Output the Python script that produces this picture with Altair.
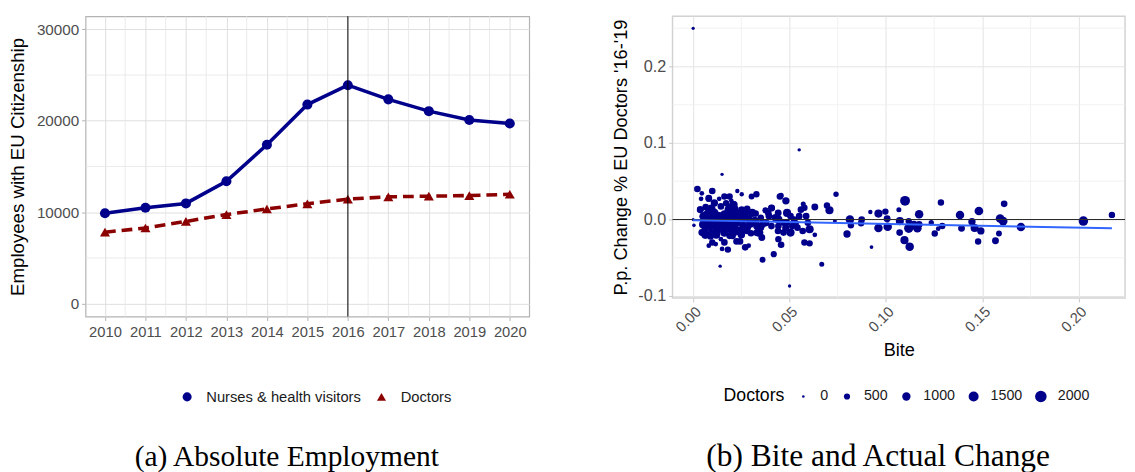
import altair as alt
import pandas as pd

# ---------------- panel (a): absolute employment ----------------
years = [2010, 2011, 2012, 2013, 2014, 2015, 2016, 2017, 2018, 2019, 2020]
nurses = [9880, 10490, 10960, 13390, 17370, 21770, 23890, 22340, 21050, 20090, 19700]
doctors_abs = [7810, 8270, 8990, 9740, 10350, 10920, 11430, 11680, 11750, 11820, 11960]
series_names = ["Nurses & health visitors", "Doctors"]
year_minor = [2010.5, 2011.5, 2012.5, 2013.5, 2014.5, 2015.5, 2016.5, 2017.5, 2018.5, 2019.5]
emp_major = [0, 10000, 20000, 30000]
emp_minor = [5000, 15000, 25000]
ref_year = [2016]

# ---------------- panel (b): bite vs change ----------------
bite = [0.000, 0.055, 0.015, 0.050, 0.014, 0.0667, 0.036, 0.0418, 0.0925, 0.000, 0.0004,
        0.0741, 0.0735, 0.0798, 0.0813, 0.0818, 0.0874, 0.0871, 0.0919, 0.0961, 0.0961,
        0.0997, 0.1006, 0.1009, 0.1067, 0.1099, 0.1072, 0.1071, 0.1096, 0.1118, 0.1123,
        0.1118, 0.1145, 0.1163, 0.1172, 0.1172, 0.1235, 0.1253, 0.1271, 0.1285, 0.1292,
        0.1384, 0.1392, 0.1446, 0.1460, 0.1482, 0.1478, 0.1492, 0.1568, 0.1586, 0.1592,
        0.1608, 0.1613, 0.1700, 0.2024, 0.2172,
        0.0456, 0.0481, 0.0571, 0.0577, 0.0631, 0.0694, 0.0707, 0.0586, 0.0595, 0.0604,
        0.0577, 0.0604, 0.0631, 0.0505, 0.0523, 0.0541, 0.0487, 0.0469, 0.0442, 0.0442,
        0.0456, 0.0406, 0.0393, 0.0379, 0.0406, 0.0342, 0.0333, 0.0324, 0.0306, 0.0328,
        0.0303, 0.0270, 0.0288, 0.0225, 0.0252, 0.0229,
        0.0022, 0.0041, 0.0099, 0.0081, 0.0135, 0.0162, 0.0189, 0.0171, 0.0207, 0.0216,
        0.0180, 0.0144, 0.0094, 0.0036, 0.0054, 0.0072, 0.0054, 0.0045, 0.0063, 0.0094,
        0.0126, 0.0108, 0.0135, 0.0162, 0.0180, 0.0198, 0.0225, 0.0243, 0.0252, 0.0261,
        0.0234, 0.0216, 0.0189, 0.0162, 0.0144, 0.0162, 0.0180, 0.0150, 0.0117, 0.0099,
        0.0081, 0.0090, 0.0288, 0.0297, 0.0279, 0.0243, 0.0198, 0.0252, 0.0045, 0.0072,
        0.0198, 0.0144, 0.0171, 0.0090, 0.0117, 0.0216, 0.0315, 0.0351, 0.0360, 0.0424,
        0.0442, 0.0487, 0.0505, 0.0559, 0.0550, 0.0514, 0.0568, 0.0469,
        0.0038, 0.0081, 0.0110, 0.0089, 0.0051, 0.0060, 0.0119, 0.0170, 0.0187, 0.0212,
        0.0272, 0.0297, 0.0255, 0.0331, 0.0374, 0.0425, 0.0450, 0.0407, 0.0153, 0.0229,
        0.0102, 0.0204, 0.0356, 0.0441,
        0.0065, 0.0110, 0.0140, 0.0200, 0.0230, 0.0280, 0.0320, 0.0065, 0.0120, 0.0170,
        0.0260, 0.0300, 0.0350, 0.0390, 0.0100, 0.0160, 0.0215, 0.0250, 0.0075, 0.0185,
        0.0280, 0.0480, 0.0530, 0.0440, 0.0375]
change = [0.250, 0.091, 0.059, -0.087, -0.061, -0.0586, -0.0527, -0.0454, -0.0360, 0.000, -0.0077,
          0.0330, -0.0020, -0.0190, 0.0000, -0.0077, 0.0000, -0.0050, 0.0098, 0.0077, -0.0110,
          0.0103, 0.0009, -0.0094, 0.0128, 0.0244, -0.0021, -0.0171, -0.0270, -0.0116, -0.0355,
          -0.0021, -0.0073, -0.0116, 0.0068, -0.0064, -0.0043, -0.0184, -0.0120, 0.0223, -0.0086,
          0.0060, -0.0116, -0.0030, -0.0111, 0.0111, -0.0287, -0.0150, -0.0278, -0.0184, 0.0013,
          -0.0021, 0.0205, -0.0098, -0.0021, 0.0060,
          0.0313, 0.0244, 0.0201, 0.0154, 0.0163, 0.0184, 0.0120, 0.0043, -0.0043, -0.0128,
          -0.0300, -0.0312, -0.0201, -0.0171, 0.0000, -0.0107, 0.0086, -0.0043, 0.0000, -0.0257,
          -0.0330, 0.0150, 0.0043, -0.0043, -0.0086, -0.0171, -0.0086, 0.0077, 0.0086, 0.0330,
          0.0300, -0.0364, -0.0342, -0.0287, 0.0330, 0.0372,
          0.0398, 0.0270, 0.0372, 0.0270, 0.0270, 0.0300, 0.0300, 0.0214, 0.0201, 0.0128,
          0.0128, 0.0171, 0.0141, 0.0128, 0.0043, -0.0021, -0.0064, -0.0171, -0.0201, -0.0171,
          -0.0128, -0.0043, 0.0043, 0.0064, -0.0043, 0.0021, -0.0043, 0.0043, 0.0128, -0.0086,
          -0.0150, -0.0171, -0.0214, -0.0171, -0.0257, -0.0300, -0.0394, -0.0385, -0.0321, -0.0300,
          -0.0342, -0.0223, 0.0000, -0.0064, -0.0150, -0.0287, 0.0244, 0.0000, 0.0342, 0.0043,
          -0.0107, -0.0064, -0.0086, -0.0086, 0.0043, 0.0043, -0.0043, 0.0021, -0.0064, 0.0021,
          -0.0086, -0.0043, 0.0043, 0.0128, 0.0043, -0.0086, -0.0150, -0.0171,
          0.0129, 0.0279, 0.0215, 0.0044, -0.0064, -0.0171, -0.0149, -0.0085, 0.0086, 0.0193,
          0.0086, -0.0020, -0.0128, -0.0171, -0.0043, 0.0022, 0.0300, 0.0150, 0.0000, -0.0020,
          -0.0043, -0.0214, -0.0235, 0.0086,
          0.0163, 0.0090, -0.0010, -0.0140, 0.0080, -0.0100, -0.0020, -0.0110, -0.0200, 0.0010,
          0.0030, -0.0180, -0.0100, 0.0080, 0.0050, -0.0110, -0.0060, -0.0200, 0.0080, 0.0170,
          0.0140, -0.0110, -0.0050, -0.0150, 0.0120]
doctors_n = [60, 80, 70, 70, 80, 300, 450, 500, 120, 40, 90,
             350, 150, 750, 1050, 550, 600, 550, 200, 950, 1050,
             550, 650, 1050, 300, 1450, 950, 600, 950, 1250, 1050,
             550, 1050, 1050, 1050, 650, 350, 550, 250, 550, 550,
             1050, 650, 750, 950, 1100, 550, 750, 650, 450, 1100,
             1100, 600, 1050, 1350, 550,
             350, 750, 300, 550, 650, 550, 950, 600, 600, 950,
             550, 550, 250, 950, 600, 600, 950, 600, 950, 550,
             600, 600, 600, 600, 600, 1050, 1050, 600, 950, 550,
             450, 600, 250, 600, 200, 200,
             600, 250, 600, 550, 250, 550, 550, 550, 600, 950,
             600, 600, 1050, 600, 1050, 1050, 600, 650, 950, 600,
             1050, 1050, 1050, 1050, 1050, 1050, 1050, 1050, 600, 1050,
             1050, 600, 600, 1050, 250, 600, 550, 250, 250, 550,
             250, 600, 1050, 600, 600, 600, 250, 600, 250, 600,
             1050, 1050, 1050, 1050, 600, 1050, 600, 600, 600, 600,
             600, 600, 600, 600, 600, 600, 600, 600,
             650, 650, 750, 850, 900, 850, 850, 900, 900, 750,
             850, 750, 850, 750, 750, 650, 600, 650, 850, 850,
             850, 650, 650, 650,
             600, 1000, 1100, 1000, 1000, 900, 1000, 1000, 900, 1100,
             1000, 600, 800, 600, 900, 1100, 1100, 800, 800, 600,
             600, 700, 700, 600, 500]
fit_bite = [0.0, 0.2172]
fit_change = [-0.0010, -0.0116]
bite_major = [0.0, 0.05, 0.10, 0.15, 0.20]
bite_minor = [0.025, 0.075, 0.125, 0.175]
chg_major = [-0.1, 0.0, 0.1, 0.2]
chg_minor = [-0.05, 0.05, 0.15, 0.25]
size_values = [0, 500, 1000, 1500, 2000]
zero_line = [0.0]

NAVY = "#00008B"
DRED = "#8B0000"
TICK_GREY = "#4D4D4D"

# ======================= panel (a) =======================
dfa = pd.DataFrame({
    "year": years + years,
    "value": nurses + doctors_abs,
    "series": [series_names[0]] * len(years) + [series_names[1]] * len(years),
})

xa = alt.X("year:Q",
           scale=alt.Scale(domain=[2009.52, 2020.48], nice=False, zero=False),
           axis=alt.Axis(values=years, format="d", title=None, labelFontSize=15,
                         labelColor=TICK_GREY, tickColor="#B3B3B3", tickSize=4,
                         labelPadding=4, domain=False, gridColor="#DEDEDE", gridWidth=1,
                         labelFlush=False, labelOverlap=False))
ya = alt.Y("value:Q",
           scale=alt.Scale(domain=[-1420, 31430], nice=False, zero=False),
           axis=alt.Axis(values=emp_major, format="d", title="Employees with EU Citizenship",
                         titleFontSize=19, titleFontWeight="normal", titleColor="black",
                         titlePadding=9, labelFontSize=15.5, labelColor=TICK_GREY,
                         tickColor="#B3B3B3", tickSize=4, labelPadding=3, domain=False,
                         gridColor="#DEDEDE", gridWidth=1, labelFlush=False))

grid_xa = alt.Chart(pd.DataFrame({"year": year_minor})).mark_rule(
    color="#E6E6E6", strokeWidth=0.8).encode(x=xa)
grid_ya = alt.Chart(pd.DataFrame({"value": emp_minor})).mark_rule(
    color="#E6E6E6", strokeWidth=0.8).encode(y=ya)

line_n = alt.Chart(dfa).transform_filter(alt.datum.series == series_names[0]).mark_line(
    color=NAVY, strokeWidth=3.6).encode(x=xa, y=ya)
line_d = alt.Chart(dfa).transform_filter(alt.datum.series == series_names[1]).mark_line(
    color=DRED, strokeWidth=3.6, strokeDash=[11, 6]).encode(x=xa, y=ya)

leg_a = alt.Legend(title=None, orient="none", legendX=96, legendY=380, direction="horizontal",
                   labelFontSize=15, labelColor="#1A1A1A", symbolSize=85, labelOffset=12,
                   columnPadding=13, symbolStrokeWidth=0)
pts_a = alt.Chart(dfa).mark_point(filled=True, opacity=1, size=105).encode(
    x=xa, y=ya,
    color=alt.Color("series:N", scale=alt.Scale(domain=series_names, range=[NAVY, DRED]), legend=leg_a),
    shape=alt.Shape("series:N", scale=alt.Scale(domain=series_names, range=["circle", "triangle-up"]), legend=leg_a),
)
vline = alt.Chart(pd.DataFrame({"year": ref_year})).mark_rule(color="black", strokeWidth=1).encode(x=xa)

left = alt.layer(grid_xa, grid_ya, line_n, line_d, pts_a, vline).properties(
    width=452, height=306,
    view=alt.ViewBackground(stroke="#B3B3B3", strokeWidth=1.2),
    title=alt.TitleParams("(a) Absolute Employment", orient="bottom", anchor="middle",
                          font="Liberation Serif", fontSize=30, fontWeight="normal",
                          color="black", offset=38, dx=-21),
)

# ======================= panel (b) =======================
dfb = pd.DataFrame({"bite": bite, "change": change, "doctors": doctors_n})

xb = alt.X("bite:Q",
           scale=alt.Scale(domain=[-0.0107, 0.224], nice=False, zero=False),
           axis=alt.Axis(values=bite_major, format=".2f", title="Bite", titleFontSize=18.5,
                         titleFontWeight="normal", titleColor="black", titlePadding=6,
                         labelFontSize=15, labelColor=TICK_GREY, labelAngle=315,
                         labelAlign="right", labelBaseline="top", labelPadding=2,
                         tickColor="#C8C8C8", tickSize=4, domain=False,
                         gridColor="#E3E3E3", gridWidth=1, labelFlush=False, labelOverlap=False))
yb = alt.Y("change:Q",
           scale=alt.Scale(domain=[-0.1026, 0.2657], nice=False, zero=False),
           axis=alt.Axis(values=chg_major, title="P.p. Change % EU Doctors '16-'19",
                         labelExpr="replace(format(datum.value, '.1f'), '\u2212', '-')",
                         titleFontSize=18.5, titleFontWeight="normal", titleColor="black",
                         titlePadding=7, labelFontSize=16.5, labelColor=TICK_GREY,
                         tickColor="#C8C8C8", tickSize=4, labelPadding=3, domain=False,
                         gridColor="#E3E3E3", gridWidth=1, labelFlush=False))

grid_xb = alt.Chart(pd.DataFrame({"bite": bite_minor})).mark_rule(
    color="#EEEEEE", strokeWidth=0.8).encode(x=xb)
grid_yb = alt.Chart(pd.DataFrame({"change": chg_minor})).mark_rule(
    color="#EEEEEE", strokeWidth=0.8).encode(y=yb)

leg_b = alt.Legend(title="Doctors", orient="none", legendX=52, legendY=380,
                   direction="horizontal", titleOrient="left", titleFontSize=18,
                   titleFontWeight="normal", titleColor="black", titlePadding=11,
                   titleBaseline="middle", titleAnchor="middle", format="d",
                   labelFontSize=14.5, labelColor="#1A1A1A", values=size_values,
                   labelOffset=10, columnPadding=11.5, symbolFillColor=NAVY,
                   symbolStrokeWidth=0, symbolOpacity=1)
pts_b = alt.Chart(dfb).mark_circle(color=NAVY, opacity=1).encode(
    x=xb, y=yb,
    size=alt.Size("doctors:Q", scale=alt.Scale(domain=[0, 2200], range=[7, 150]), legend=leg_b),
)
hline = alt.Chart(pd.DataFrame({"change": zero_line})).mark_rule(
    color="#2B2B2B", strokeWidth=1.1).encode(y=yb)
fit = alt.Chart(pd.DataFrame({"bite": fit_bite, "change": fit_change})).mark_line(
    color="#3366FF", strokeWidth=2).encode(x=xb, y=yb)

right = alt.layer(grid_xb, grid_yb, pts_b, hline, fit).properties(
    width=461, height=287,
    view=alt.ViewBackground(stroke="#D2D2D2", strokeWidth=1.5),
    title=alt.TitleParams("(b) Bite and Actual Change", orient="bottom", anchor="middle",
                          font="Liberation Serif", fontSize=32, fontWeight="normal",
                          color="black", offset=37, dx=-21),
)

chart = alt.hconcat(left, right, spacing=82).resolve_scale(
    x="independent", y="independent", color="independent", shape="independent", size="independent"
).properties(
    padding={"left": 0, "top": 2, "right": 0, "bottom": 0},
).configure(font="Liberation Sans")

chart.save("out.html", embed_options={"renderer": "svg", "actions": False})
